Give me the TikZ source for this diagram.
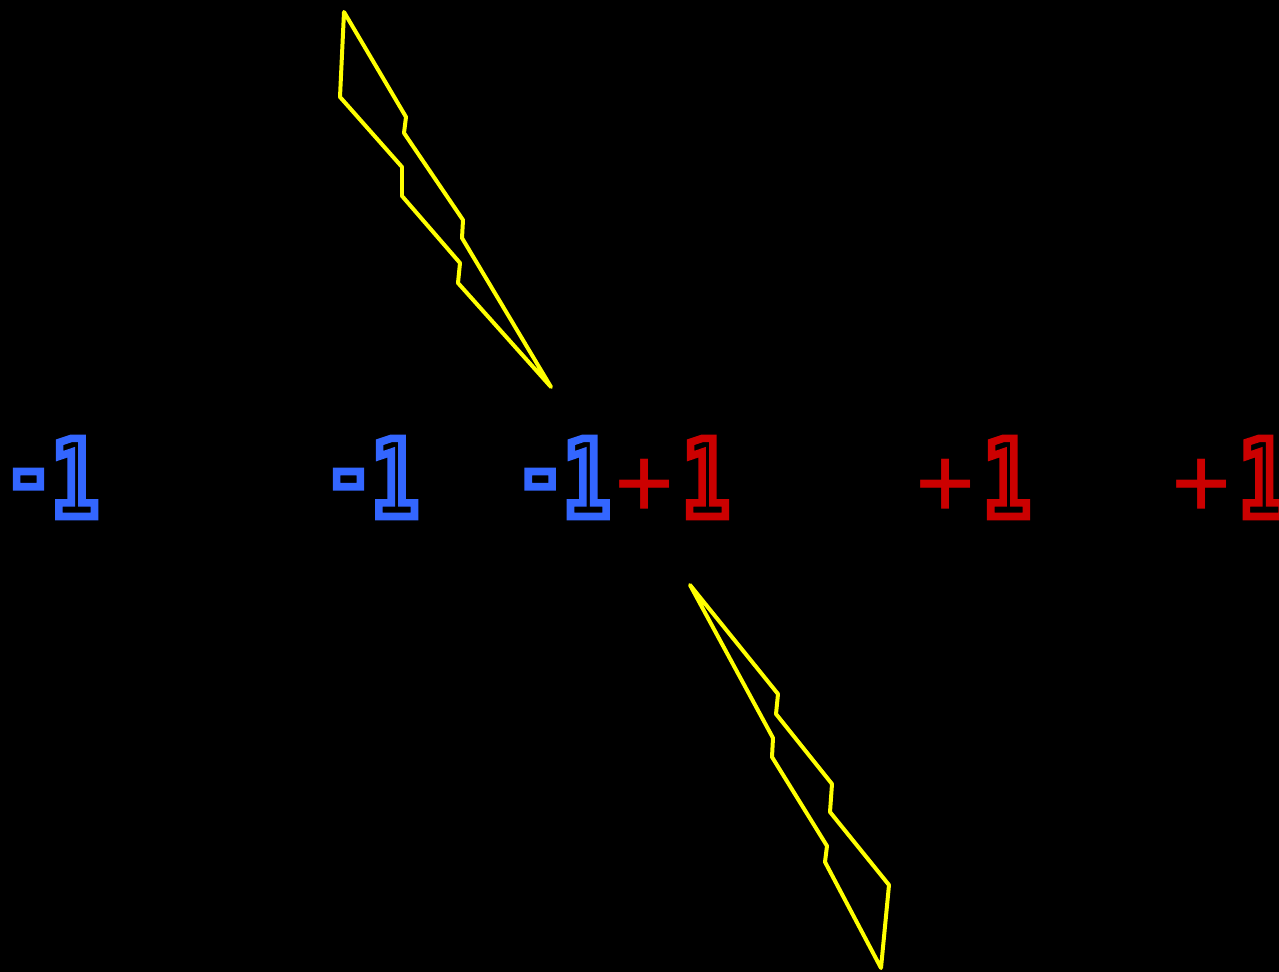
\documentclass[tikz,border=0pt]{standalone}
\usepackage{fontspec}
\newfontfamily\digitfont{DejaVu Sans Mono}
\newfontfamily\onefont[FakeStretch=0.72]{DejaVu Sans Mono}
\definecolor{boltyellow}{HTML}{FFFF00}
\definecolor{negblue}{HTML}{3366FF}
\definecolor{posred}{HTML}{CC0000}
\newcommand\hollow[1]{\special{pdf:literal direct 1 Tr 4.3 w}#1\special{pdf:literal direct 0 Tr}}

\begin{document}
\begin{tikzpicture}[
  x=0.02cm,y=-0.02cm,
  every node/.style={inner sep=0pt,anchor=base west},
  charge/.style={font=\onefont\bfseries\fontsize{61}{61}\selectfont},
  negcharge/.style={charge,text=negblue},
  poscharge/.style={charge,text=posred},
  bolt/.style={draw=boltyellow,line width=2.27pt,line join=round}
]
  \fill[black] (0,0) rectangle (1279,972);
  \useasboundingbox (0,0) rectangle (1279,972);

  \draw[bolt] (344,12) -- (340,97) -- (402,167) -- (402,196) -- (460,263) -- (458,283)
    -- (551,387) -- (462,238) -- (463,220) -- (404,133) -- (406,117) -- cycle;
  \draw[bolt] (690,585) -- (778,694) -- (776,714) -- (832,784) -- (830,812) -- (889,885)
    -- (881,968) -- (825,862) -- (827,846) -- (772,757) -- (773,738) -- cycle;

  \node[negcharge] (nega) at (4.9,516.5) {\raisebox{3.7pt}{\hollow{-}}\hollow{1}};
  \node[negcharge] (negb) at (324.9,516.5) {\raisebox{3.7pt}{\hollow{-}}\hollow{1}};
  \node[negcharge] (negc) at (516.6,516.5) {\raisebox{3.7pt}{\hollow{-}}\hollow{1}};

  \node[poscharge] (posa) at (615.3,516.5) {\raisebox{1.4pt}{\digitfont\mdseries\fontsize{55}{55}\selectfont +}\kern5pt\hollow{1}};
  \node[poscharge] (posb) at (916.3,516.5) {\raisebox{1.4pt}{\digitfont\mdseries\fontsize{55}{55}\selectfont +}\kern5pt\hollow{1}};
  \node[poscharge] (posc) at (1172,516.5) {\raisebox{1.4pt}{\digitfont\mdseries\fontsize{55}{55}\selectfont +}\kern5pt\hollow{1}};
\end{tikzpicture}
\end{document}
